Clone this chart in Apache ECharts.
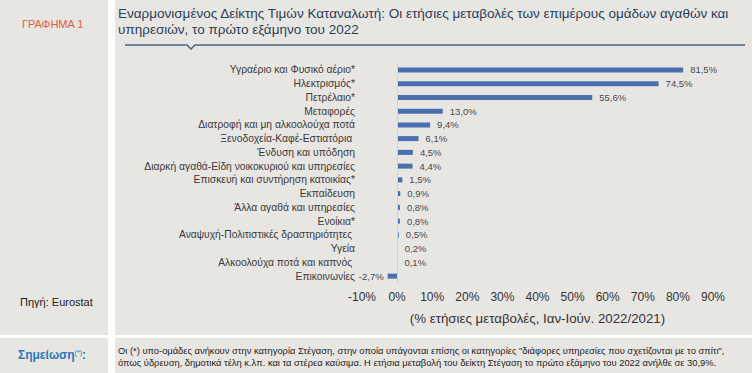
<!DOCTYPE html>
<html>
<head>
<meta charset="utf-8">
<script src="https://cdn.jsdelivr.net/npm/echarts@6/dist/echarts.min.js"></script>
<style>
html,body{margin:0;padding:0;background:#ffffff;}
#chart{width:753px;height:373px;}
</style>
</head>
<body>
<div id="chart"></div>
<script>
const categories = [
  'Υγραέριο και Φυσικό αέριο*',
  'Ηλεκτρισμός*',
  'Πετρέλαιο*',
  'Μεταφορές',
  'Διατροφή και μη αλκοολούχα ποτά',
  'Ξενοδοχεία-Καφέ-Εστιατόρια ',
  'Ένδυση και υπόδηση',
  'Διαρκή αγαθά-Είδη νοικοκυριού και υπηρεσίες',
  'Επισκευή και συντήρηση κατοικίας*',
  'Εκπαίδευση',
  'Άλλα αγαθά και υπηρεσίες',
  'Ενοίκια*',
  'Αναψυχή-Πολιτιστικές δραστηριότητες ',
  'Υγεία',
  'Αλκοολούχα ποτά και καπνός ',
  'Επικοινωνίες'
];
const values = [81.5, 74.5, 55.6, 13.0, 9.4, 6.1, 4.5, 4.4, 1.5, 0.9, 0.8, 0.8, 0.5, 0.2, 0.1, -2.7];
const xTicks = [-10, 0, 10, 20, 30, 40, 50, 60, 70, 80, 90];

const titleLines = [
  'Εναρμονισμένος Δείκτης Τιμών Καταναλωτή: Οι ετήσιες μεταβολές των επιμέρους ομάδων αγαθών και',
  'υπηρεσιών, το πρώτο εξάμηνο του 2022'
];
const chartLabel = 'ΓΡΑΦΗΜΑ 1';
const sourceText = 'Πηγή: Eurostat';
const axisTitle = '(% ετήσιες μεταβολές, Ιαν-Ιούν. 2022/2021)';
const noteLines = [
  'Οι (*) υπο-ομάδες ανήκουν στην κατηγορία Στέγαση, στην οποία υπάγονται επίσης οι κατηγορίες "διάφορες υπηρεσίες που σχετίζονται με το σπίτι",',
  'όπως ύδρευση, δημοτικά τέλη κ.λπ. και τα στέρεα καύσιμα. Η ετήσια μεταβολή του δείκτη Στέγαση το πρώτο εξάμηνο του 2022 ανήλθε σε 30,9%.'
];

function fmt(v){ return v.toFixed(1).replace('.', ',') + '%'; }

const PANEL = '#e8e6e3';
const FONT = 'Liberation Sans, Arial, sans-serif';

const chart = echarts.init(document.getElementById('chart'), null, {renderer: 'svg'});
const option = {
  backgroundColor: '#ffffff',
  animation: false,
  graphic: [
    {type:'rect', z:-10, shape:{x:0, y:0, width:108, height:335}, style:{fill:PANEL}},
    {type:'rect', z:-10, shape:{x:115, y:0, width:637, height:335}, style:{fill:PANEL}},
    {type:'rect', z:-10, shape:{x:0, y:338, width:108, height:35}, style:{fill:PANEL}},
    {type:'rect', z:-10, shape:{x:115, y:338, width:637, height:35}, style:{fill:PANEL}},
    {type:'text', x:22, y:24, style:{text:chartLabel, fill:'#e0603c', font:'11px ' + FONT, textVerticalAlign:'middle'}},
    {type:'text', x:118, y:13, style:{text:titleLines[0], fill:'#2c3e58', font:'13.5px ' + FONT, textVerticalAlign:'middle'}},
    {type:'text', x:118, y:29.5, style:{text:titleLines[1], fill:'#2c3e58', font:'13.5px ' + FONT, textVerticalAlign:'middle'}},
    {type:'polyline', shape:{points:[[125,45],[187,45],[191,49],[195,45],[745,45]]}, style:{stroke:'#4a6384', lineWidth:1.5, fill:null}},
    {type:'text', x:20, y:302, style:{text:sourceText, fill:'#222222', font:'11px ' + FONT, textVerticalAlign:'middle'}},
    {type:'text', x:18, y:355, style:{
      text:'{b|Σημείωση}{s|(*)}{b|:}',
      textVerticalAlign:'middle',
      rich:{
        b:{fill:'#2a78b8', font:'bold 12px ' + FONT},
        s:{fill:'#2a78b8', font:'7px ' + FONT, verticalAlign:'top', padding:[0,0,6,0]}
      }
    }},
    {type:'text', x:118, y:351, style:{text:noteLines[0], fill:'#222222', font:'9.35px ' + FONT, textVerticalAlign:'middle'}},
    {type:'text', x:118, y:363, style:{text:noteLines[1], fill:'#222222', font:'9.35px ' + FONT, textVerticalAlign:'middle'}}
  ],
  grid: {left:362, right:40, top:63, bottom:90},
  xAxis: {
    type:'value', min:xTicks[0], max:xTicks[xTicks.length-1], interval:10,
    axisLine:{show:false}, axisTick:{show:false}, splitLine:{show:false},
    axisLabel:{color:'#333333', fontSize:12, fontFamily:FONT, margin:8, formatter: v => v + '%'},
    name: axisTitle, nameLocation:'middle', nameGap:29,
    nameTextStyle:{color:'#333333', fontSize:13.3, fontFamily:FONT}
  },
  yAxis: {
    type:'category', data:categories, inverse:true,
    axisLine:{show:false, onZero:false},
    axisTick:{show:false},
    axisLabel:{color:'#3a3a3a', fontSize:10.3, fontFamily:FONT, margin:7}
  },
  series: [{
    type:'bar', data: values.map(v => ({
      value:v,
      label:{position: v < 0 ? 'left' : 'right', distance: v < 0 ? 4 : 7}
    })),
    barWidth:5,
    itemStyle:{color:'#4a6fae'},
    label:{show:true, color:'#4a4a4a', fontSize:9.5, fontFamily:FONT, formatter: p => fmt(p.value)},
    markLine:{
      silent:true, symbol:'none', label:{show:false},
      lineStyle:{color:'#cfd3d8', width:1, type:'solid'},
      data:[{xAxis:0}]
    }
  }]
};
chart.setOption(option);
</script>
</body>
</html>
